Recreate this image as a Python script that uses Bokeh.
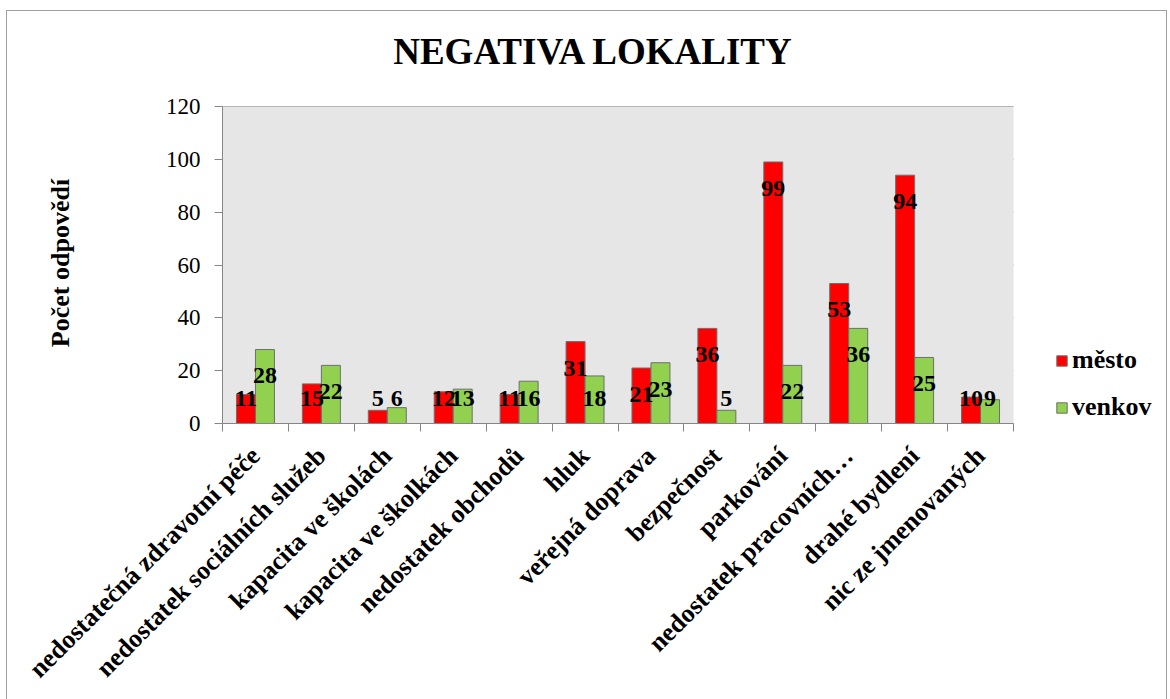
import math
import numpy as np
from bokeh.plotting import figure
from bokeh.models import (Range1d, FixedTicker, Legend, LegendItem, ColumnDataSource,
                          BoxAnnotation, Label)
from bokeh.core.properties import value
from bokeh.embed import file_html
from bokeh.resources import INLINE

# ---- data ----
categories = [
    "nedostatečná zdravotní péče",
    "nedostatek sociálních služeb",
    "kapacita ve školách",
    "kapacita ve školkách",
    "nedostatek obchodů",
    "hluk",
    "veřejná doprava",
    "bezpečnost",
    "parkování",
    "nedostatek pracovních…",
    "drahé bydlení",
    "nic ze jmenovaných",
]
mesto = [11, 15, 5, 12, 11, 31, 21, 36, 99, 53, 94, 10]
venkov = [28, 22, 6, 13, 16, 18, 23, 5, 22, 36, 25, 9]
series_names = ["město", "venkov"]
y_ticks = [0, 20, 40, 60, 80, 100, 120]
y_max = 120
title_text = "NEGATIVA LOKALITY"
y_title = "Počet odpovědí"

FONT = "Liberation Serif"
RED = "#FF0000"
GREEN = "#92D050"
EDGE = "#6E6E6E"
GRID = "#868686"
PLOT_BG = "#E6E6E6"

n = len(categories)
centers = np.arange(n) + 0.5
bw = 0.288

# layout (pixels, relative to the figure)
FIG_W, FIG_H = 1159, 688
LEFT, BOTTOM = 215, 276
PLOT_W, PLOT_H = 791, 317         # size of the shaded plot area
FRAME_W = FIG_W - LEFT            # frame reaches right edge (legend room)
FRAME_H = FIG_H - BOTTOM          # frame reaches top edge (title room)
x_end = n * FRAME_W / PLOT_W
y_end = y_max * FRAME_H / PLOT_H
px_x = PLOT_W / n
px_y = PLOT_H / y_max

p = figure(width=FIG_W, height=FIG_H, x_range=Range1d(0, x_end), y_range=Range1d(0, y_end),
           output_backend="svg", toolbar_location=None,
           min_border_left=LEFT, min_border_right=0, min_border_top=0, min_border_bottom=BOTTOM)
p.background_fill_color = "white"
p.border_fill_color = "white"
p.outline_line_color = None
p.styles = {"margin-left": "7px", "margin-top": "11px", "outline": "1px solid #A0A0A0"}

# shaded plot area and grid lines
p.add_layout(BoxAnnotation(left=0, right=n, bottom=0, top=y_max, fill_color=PLOT_BG,
                           fill_alpha=1, line_color=None, level="underlay"))
p.segment(x0=[0] * len(y_ticks), x1=[n] * len(y_ticks), y0=y_ticks, y1=y_ticks,
          line_color=GRID, line_width=1, level="underlay")

def label_pos(vals):
    v = np.array(vals, dtype=float)
    return np.maximum(v - 10, 9.5)

src_m = ColumnDataSource(dict(x=centers - bw / 2, top=mesto, ly=label_pos(mesto),
                              txt=[str(v) for v in mesto]))
src_v = ColumnDataSource(dict(x=centers + bw / 2, top=venkov, ly=label_pos(venkov),
                              txt=[str(v) for v in venkov]))

r1 = p.vbar(x="x", top="top", bottom=0, width=bw, source=src_m,
            fill_color=RED, line_color=EDGE, line_width=1)
r2 = p.vbar(x="x", top="top", bottom=0, width=bw, source=src_v,
            fill_color=GREEN, line_color=EDGE, line_width=1)

for src in (src_m, src_v):
    p.text(x="x", y="ly", text="txt", source=src, text_font=value(FONT),
           text_font_style="bold", text_font_size="24px", text_align="center",
           text_baseline="middle", text_color="black")

# title (centred 371 px right of the plot area's left edge, 55 px above its top)
p.add_layout(Label(x=371 / px_x, y=y_max + 55 / px_y, text=title_text,
                   text_align="center", text_baseline="middle", text_font=FONT,
                   text_font_style="bold", text_font_size="37px", text_color="black"))

# x axis: labels at centres, ticks at boundaries
xa = p.xaxis[0]
xa.bounds = (0, n)
xa.ticker = FixedTicker(ticks=list(centers), minor_ticks=list(range(n + 1)))
xa.major_label_overrides = {float(c): cat for c, cat in zip(centers, categories)}
xa.major_tick_out = 0
xa.major_tick_in = 0
xa.minor_tick_out = 8
xa.minor_tick_in = 0
xa.minor_tick_line_color = GRID
xa.axis_line_color = GRID
xa.major_label_orientation = math.pi / 4
xa.major_label_standoff = 20
xa.major_label_text_font = FONT
xa.major_label_text_font_style = "bold"
xa.major_label_text_font_size = "26px"
xa.major_label_text_color = "black"

ya = p.yaxis[0]
ya.bounds = (0, y_max)
ya.ticker = FixedTicker(ticks=y_ticks)
ya.major_tick_out = 8
ya.major_tick_in = 0
ya.minor_tick_line_color = None
ya.major_tick_line_color = GRID
ya.axis_line_color = GRID
ya.major_label_standoff = 14
ya.major_label_text_font = FONT
ya.major_label_text_font_size = "23px"
ya.major_label_text_color = "black"
# trailing no-break spaces centre the visible title on the 0-120 part of the axis
ya.axis_label = y_title + "\u00a0" * 14
ya.axis_label_text_font = FONT
ya.axis_label_text_font_style = "bold"
ya.axis_label_text_font_size = "26px"
ya.axis_label_text_color = "black"
ya.axis_label_standoff = 88

p.xgrid.grid_line_color = None
p.ygrid.grid_line_color = None

legend = Legend(items=[LegendItem(label=series_names[0], renderers=[r1]),
                       LegendItem(label=series_names[1], renderers=[r2])],
                location=(833, 1), orientation="vertical",
                glyph_width=13, glyph_height=13, label_standoff=4, spacing=17,
                padding=0, margin=0, border_line_color=None, background_fill_alpha=0,
                label_text_font=FONT, label_text_font_style="bold",
                label_text_font_size="26px", label_text_color="black")
p.add_layout(legend)

open("out.html", "w").write(file_html(p, INLINE))
